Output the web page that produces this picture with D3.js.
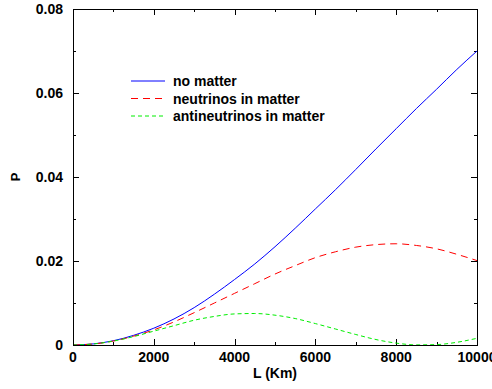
<!DOCTYPE html>
<html>
<head>
<meta charset="utf-8">
<script src="https://cdnjs.cloudflare.com/ajax/libs/d3/7.8.5/d3.min.js"></script>
<style>
  body { margin: 0; background: #fff; }
  svg text { font-family: "Liberation Sans", Arial, sans-serif; font-weight: bold; }
</style>
</head>
<body>
<div id="chart"></div>
<script>
// distances in km
const distances = [0, 500, 1000, 1500, 2000, 2500, 3000, 3500, 4000, 4500, 5000,
  5500, 6000, 6500, 7000, 7500, 8000, 8500, 9000, 9500, 10000];

const noMatter = [0, 0.00026, 0.00102, 0.0023, 0.0040, 0.0062, 0.0089, 0.0121, 0.0156, 0.0193, 0.0234,
  0.0278, 0.0324, 0.0370, 0.0418, 0.0467, 0.0515, 0.0563, 0.0609, 0.0656, 0.0700];

const neutrinos = [0, 0.00024, 0.00094, 0.0021, 0.0036, 0.0055, 0.0077, 0.0100, 0.0123, 0.0146, 0.0169,
  0.0189, 0.0208, 0.0222, 0.0233, 0.0239, 0.0241, 0.0237, 0.0229, 0.0216, 0.0201];

const antineutrinos = [0, 0.00024, 0.00094, 0.0020, 0.0033, 0.0046, 0.0059, 0.0068, 0.0074, 0.0075, 0.0071,
  0.0063, 0.0051, 0.0038, 0.0025, 0.0013, 0.00045, 0.00003, 0.0001, 0.00064, 0.0016];

const xTicks = [0, 2000, 4000, 6000, 8000, 10000];
const yTicks = [0, 0.02, 0.04, 0.06, 0.08];

const series = [
  { name: 'no matter', values: noMatter, color: '#0000ff', dash: null },
  { name: 'neutrinos in matter', values: neutrinos, color: '#ff0000', dash: '7,5' },
  { name: 'antineutrinos in matter', values: antineutrinos, color: '#00ee00', dash: '4,3' }
];

const width = 492, height = 389;
const margin = { top: 9, right: 15, bottom: 44, left: 73 };
const innerW = width - margin.left - margin.right;
const innerH = height - margin.top - margin.bottom;

const x = d3.scaleLinear().domain([0, 10000]).range([0, innerW]);
const y = d3.scaleLinear().domain([0, 0.08]).range([innerH, 0]);

const svg = d3.select('#chart')
  .append('svg')
  .attr('width', width)
  .attr('height', height);

const g = svg.append('g')
  .attr('transform', `translate(${margin.left},${margin.top})`);

// ticks on all four sides, pointing inward
const xMinor = d3.range(0, 10001, 1000);
const yMinor = d3.range(0, 0.0801, 0.01);

function tickLen(v, majors) {
  return majors.some(m => Math.abs(m - v) < 1e-9) ? 6 : 3;
}

const ticks = g.append('g').attr('stroke', '#000').attr('stroke-width', 1);

xMinor.forEach(v => {
  const len = tickLen(v, xTicks);
  const px = Math.round(x(v)) + 0.5;
  ticks.append('line').attr('x1', px).attr('x2', px).attr('y1', innerH).attr('y2', innerH - len);
  ticks.append('line').attr('x1', px).attr('x2', px).attr('y1', 0).attr('y2', len);
});

yMinor.forEach(v => {
  const len = tickLen(v, yTicks);
  const py = Math.round(y(v)) + 0.5;
  ticks.append('line').attr('x1', 0).attr('x2', len).attr('y1', py).attr('y2', py);
  ticks.append('line').attr('x1', innerW).attr('x2', innerW - len).attr('y1', py).attr('y2', py);
});

// tick labels
g.selectAll('.xlabel')
  .data(xTicks)
  .join('text')
  .attr('x', d => x(d))
  .attr('y', innerH + 17)
  .attr('text-anchor', 'middle')
  .attr('font-size', 14)
  .text(d => d);

g.selectAll('.ylabel')
  .data(yTicks)
  .join('text')
  .attr('x', -10)
  .attr('y', d => y(d) + 5)
  .attr('text-anchor', 'end')
  .attr('font-size', 14)
  .text(d => d === 0 ? '0' : d3.format('.2f')(d));

// curves
const line = d3.line()
  .x((d, i) => x(distances[i]))
  .y(d => y(d))
  .curve(d3.curveMonotoneX);

series.forEach(s => {
  g.append('path')
    .datum(s.values)
    .attr('fill', 'none')
    .attr('stroke', s.color)
    .attr('stroke-width', 1)
    .attr('stroke-dasharray', s.dash)
    .attr('d', line);
});

// frame
g.append('rect')
  .attr('x', 0.5)
  .attr('y', 0.5)
  .attr('width', innerW)
  .attr('height', innerH)
  .attr('fill', 'none')
  .attr('stroke', '#000');

// legend
const legend = svg.append('g');
series.forEach((s, i) => {
  const ly = 81 + i * 17.5;
  legend.append('line')
    .attr('x1', 131).attr('x2', 165)
    .attr('y1', ly).attr('y2', ly)
    .attr('stroke', s.color)
    .attr('stroke-dasharray', s.dash);
  legend.append('text')
    .attr('x', 173)
    .attr('y', ly + 5)
    .attr('font-size', 14)
    .text(s.name);
});

// axis titles
svg.append('text')
  .attr('x', margin.left + innerW / 2)
  .attr('y', 378)
  .attr('text-anchor', 'middle')
  .attr('font-size', 14)
  .text('L (Km)');

svg.append('text')
  .attr('transform', `translate(20,${margin.top + innerH / 2}) rotate(-90)`)
  .attr('text-anchor', 'middle')
  .attr('font-size', 13)
  .text('P');
</script>
</body>
</html>
